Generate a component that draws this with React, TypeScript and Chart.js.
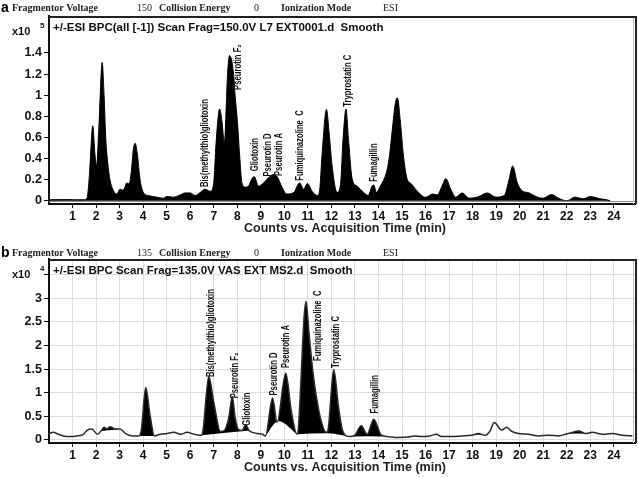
import React, { useEffect, useRef } from "react";
import { Chart, registerables } from "chart.js";

Chart.register(...registerables);

// ---------- Panel a: Fragmentor 150 V ----------
const timeA = [
  0, 0.9, 1.0, 1.5, 1.62, 1.72, 1.86, 1.95, 2.02, 2.12, 2.26, 2.34, 2.41, 2.5, 2.59, 2.74, 2.88,
  3.02, 3.15, 3.23, 3.3, 3.4, 3.5, 3.58, 3.66, 3.75, 3.87, 4.01, 4.23, 4.58, 4.87, 5.0, 5.29,
  5.57, 5.79, 6.0, 6.21, 6.43, 6.64, 6.85, 7.0, 7.1, 7.25, 7.35, 7.45, 7.59, 7.67, 7.84, 7.91,
  8.01, 8.1, 8.2, 8.34, 8.48, 8.6, 8.72, 8.9, 9.12, 9.33, 9.55, 9.69, 9.9, 10.1, 10.4, 10.65, 10.82,
  10.98, 11.18, 11.4, 11.5, 11.6, 11.79, 11.9, 12.03, 12.24, 12.38, 12.5, 12.62, 12.72, 12.88,
  13.09, 13.37, 13.56, 13.73, 13.8, 13.91, 14.08, 14.34, 14.45, 14.6, 14.7, 14.8, 14.95, 15.05,
  15.2, 15.4, 15.7, 16.0, 16.3, 16.5, 16.7, 16.86, 17.07, 17.28, 17.56, 17.85, 18.2, 18.63, 18.99,
  19.34, 19.56, 19.7, 19.9, 20.1, 20.4, 20.75, 21.0, 21.35, 21.65, 22.0, 22.35, 22.7, 23.0, 23.4,
  23.7, 23.85,
];
const countsA = [
  0.01, 0.012, 0.01, 0.01, 0.03, 0.25, 0.71, 0.45, 0.33, 0.7, 1.31, 1.0, 0.6, 0.35, 0.2, 0.096, 0.065,
  0.11, 0.1, 0.13, 0.17, 0.16, 0.28, 0.48, 0.545, 0.45, 0.2, 0.08, 0.05, 0.035, 0.025, 0.04, 0.035,
  0.056, 0.075, 0.075, 0.05, 0.08, 0.11, 0.09, 0.17, 0.55, 0.87, 0.75, 0.55, 1.21, 1.375, 1.21, 0.99,
  0.74, 0.43, 0.17, 0.13, 0.14, 0.2, 0.23, 0.14, 0.17, 0.22, 0.25, 0.23, 0.13, 0.065, 0.08, 0.17, 0.11,
  0.165, 0.09, 0.05, 0.1, 0.43, 0.865, 0.65, 0.33, 0.08, 0.14, 0.6, 0.87, 0.6, 0.21,
  0.14, 0.08, 0.05, 0.14, 0.15, 0.08, 0.14, 0.27, 0.4, 0.7, 0.9, 0.975, 0.7, 0.45,
  0.22, 0.16, 0.08, 0.033, 0.065, 0.056, 0.14, 0.21, 0.11, 0.035, 0.075, 0.025, 0.035, 0.075, 0.035,
  0.05, 0.21, 0.33, 0.17, 0.096, 0.075, 0.035, 0.025, 0.06, 0.025, 0.0, 0.035, 0.02, 0.04, 0.02,
  0.01, 0.0,
];

// ---------- Panel b: Fragmentor 135 V ----------
const timeB = [
  0.0, 0.18, 0.4, 0.61, 0.9, 1.18, 1.46, 1.63, 1.82, 2.06, 2.24, 2.34, 2.46, 2.6, 2.81, 3.02,
  3.24, 3.53, 3.81, 3.92, 4.11, 4.3, 4.48, 4.73, 5.02, 5.3, 5.59, 5.87, 6.16, 6.44, 6.51, 6.79,
  7.0, 7.29, 7.45, 7.65, 7.79, 7.9, 8.05, 8.2, 8.36, 8.5, 8.65, 8.86, 9.07, 9.2, 9.5, 9.69,
  10.06, 10.3, 10.54, 10.92, 11.05, 11.2, 11.35, 11.56, 11.77, 11.85, 12.1, 12.3, 12.48, 12.77, 13.0,
  13.27, 13.52, 13.8, 14.12, 14.4, 14.83, 15.25, 15.54, 15.83, 16.18, 16.46, 16.68, 17.1, 17.53,
  17.96, 18.25, 18.53, 18.74, 18.92, 19.23, 19.45, 19.66, 19.95, 20.37, 20.8, 21.23, 21.66,
  21.94, 22.23, 22.51, 22.8, 23.08, 23.51, 23.93, 24.36, 24.79,
];
const countsB = [
  0.135, 0.16, 0.12, 0.085, 0.07, 0.085, 0.12, 0.21, 0.23, 0.12, 0.21, 0.27, 0.23, 0.28, 0.23, 0.23,
  0.14, 0.085, 0.085, 0.2, 1.11, 0.5, 0.085, 0.12, 0.135, 0.16, 0.12, 0.16, 0.12, 0.1, 0.12, 1.35,
  0.8, 0.18, 0.2, 0.5, 0.92, 0.5, 0.22, 0.2, 0.32, 0.2, 0.16, 0.135, 0.12, 0.085, 0.89, 0.37,
  1.41, 0.6, 0.12, 2.93, 2.25, 1.5, 0.95, 0.41, 0.16, 0.2, 1.49, 0.7, 0.19, 0.07, 0.1,
  0.3, 0.12, 0.44, 0.1, 0.07, 0.05, 0.06, 0.085, 0.07, 0.085, 0.12, 0.07, 0.07, 0.085,
  0.1, 0.135, 0.1, 0.19, 0.37, 0.21, 0.27, 0.18, 0.135, 0.12, 0.085, 0.1, 0.085,
  0.12, 0.16, 0.19, 0.135, 0.16, 0.12, 0.135, 0.1, 0.085,
];
// integration baselines under the filled peaks of panel b
const baseTimesB = [
  [2.18, 2.9],
  [3.86, 4.5],
  [6.48, 8.55],
  [9.2, 9.75, 10.54],
  [10.54, 11.8, 12.77],
  [12.9, 14.2],
  [18.1, 18.42],
  [22.05, 22.9],
];
const baseCountsB = [
  [0.19, 0.22],
  [0.085, 0.085],
  [0.1, 0.2],
  [0.085, 0.4, 0.12],
  [0.12, 0.14, 0.07],
  [0.07, 0.085],
  [0.11, 0.11],
  [0.13, 0.14],
];

// ---------- labels ----------
const peakNames = [
  "Bis(methylthio)gliotoxin",
  "Pseurotin F\u2082",
  "Gliotoxin",
  "Pseurotin D",
  "Pseurotin A",
  "Fumiquinazoline  C",
  "Tryprostatin C",
  "Fumagillin",
];
const labelTimeA = [6.64, 8.04, 8.77, 9.32, 9.79, 10.68, 12.72, 13.83];
const labelBaseA = [0.13, 1.05, 0.28, 0.23, 0.235, 0.19, 0.89, 0.18];
const labelTimeB = [6.91, 7.93, 8.44, 9.59, 10.06, 11.45, 12.2, 13.86];
const labelBaseB = [1.33, 0.88, 0.3, 0.94, 1.52, 1.67, 1.52, 0.56];

const xTickValues = [1, 2, 3, 4, 5, 6, 7, 8, 9, 10, 11, 12, 13, 14, 15, 16, 17, 18, 19, 20, 21, 22, 23, 24];
const yTickValuesA = [0, 0.2, 0.4, 0.6, 0.8, 1, 1.2, 1.4];
const yTickValuesB = [0, 0.5, 1, 1.5, 2, 2.5, 3, 3.5];
const yLabelMaxB = 3;

const SANS = '"Liberation Sans", Arial, sans-serif';
const SERIF = '"Liberation Serif", "DejaVu Serif", serif';

type Panel = {
  letter: string;
  voltage: string;
  exponent: string;
  title: string;
  labelTimes: number[];
  labelBases: number[];
  headerY: number;
  zeroLine: boolean;
};

function makeOverlay(p: Panel) {
  return {
    id: "overlay" + p.letter,
    afterDatasetsDraw(chart: any) {
      const ctx = chart.ctx as CanvasRenderingContext2D;
      const area = chart.chartArea;
      const xs = chart.scales.x;
      const ys = chart.scales.y;
      ctx.save();
      if (p.zeroLine) {
        ctx.strokeStyle = "#8a8a8a";
        ctx.lineWidth = 1;
        const y0 = Math.round(ys.getPixelForValue(0)) + 0.5;
        ctx.beginPath();
        ctx.moveTo(area.left, y0);
        ctx.lineTo(area.right, y0);
        ctx.stroke();
      }
      // peak labels (rotated, condensed along the text so the longest name is ~88px)
      ctx.font = "bold 10px " + SANS;
      const w = ctx.measureText(peakNames[0]).width;
      const sx = 88 / w;
      ctx.fillStyle = "#111";
      ctx.textAlign = "left";
      ctx.textBaseline = "middle";
      for (let i = 0; i < peakNames.length; i++) {
        const px = xs.getPixelForValue(p.labelTimes[i]);
        const py = ys.getPixelForValue(p.labelBases[i]);
        ctx.save();
        ctx.translate(px, py);
        ctx.rotate(-Math.PI / 2);
        ctx.scale(sx, 1);
        ctx.fillText(peakNames[i], 0, 0);
        ctx.restore();
      }
      ctx.restore();
    },
    afterDraw(chart: any) {
      const ctx = chart.ctx as CanvasRenderingContext2D;
      const area = chart.chartArea;
      ctx.save();
      // frame top / right
      ctx.strokeStyle = "#222";
      ctx.lineWidth = 2;
      ctx.beginPath();
      ctx.moveTo(area.left, area.top + 1);
      ctx.lineTo(area.right + 1, area.top + 1);
      ctx.lineTo(area.right + 1, area.bottom);
      ctx.stroke();
      ctx.strokeStyle = "#bbb";
      ctx.lineWidth = 1;
      ctx.beginPath();
      ctx.moveTo(area.right - 1.5, area.top + 2);
      ctx.lineTo(area.right - 1.5, area.bottom);
      ctx.stroke();

      // header row
      const hy = p.headerY;
      ctx.fillStyle = "#000";
      ctx.textBaseline = "middle";
      ctx.textAlign = "left";
      ctx.font = "bold 14px " + SANS;
      ctx.fillText(p.letter, 1, hy);
      ctx.fillStyle = "#222";
      ctx.font = "bold 10px " + SERIF;
      ctx.fillText("Fragmentor Voltage", 12, hy);
      ctx.fillText("Collision Energy", 159, hy);
      ctx.fillText("Ionization Mode", 281, hy);
      ctx.font = "10px " + SERIF;
      ctx.fillText(p.voltage, 137, hy);
      ctx.fillText("0", 254, hy);
      ctx.fillText("ESI", 383, hy);

      // multiplier
      ctx.fillStyle = "#111";
      ctx.font = "bold 11px " + SANS;
      ctx.fillText("x10", 12, area.top + 16);
      ctx.font = "bold 8px " + SANS;
      ctx.fillText(p.exponent, 40, area.top + 10);

      // panel title
      ctx.fillStyle = "#111";
      ctx.font = "bold 11.5px " + SANS;
      ctx.fillText(p.title, 53, area.top + 12);

      // axis title
      ctx.textAlign = "center";
      ctx.font = "bold 12.5px " + SANS;
      ctx.fillStyle = "#222";
      ctx.fillText("Counts vs. Acquisition Time (min)", 345, area.bottom + 25);
      ctx.restore();
    },
  };
}

function xScale(gridOn: boolean) {
  return {
    type: "linear" as const,
    min: 0,
    max: 24.9,
    afterBuildTicks: (s: any) => {
      s.ticks = xTickValues.map((v) => ({ value: v }));
    },
    afterFit: (s: any) => {
      s.height = 35;
    },
    ticks: {
      autoSkip: false,
      maxRotation: 0,
      padding: 1,
      color: "#111",
      font: { family: SANS, size: 12, weight: "bold" as const },
      callback: (v: any) => String(v),
    },
    grid: {
      display: true,
      drawOnChartArea: gridOn,
      color: "#dcdcdc",
      tickColor: "#111",
      tickLength: 4,
      lineWidth: 1,
    },
    border: { display: true, color: "#111", width: 2 },
  };
}

function yScale(min: number, max: number, tickValues: number[], labelMax: number, gridOn: boolean) {
  return {
    type: "linear" as const,
    min,
    max,
    afterBuildTicks: (s: any) => {
      s.ticks = tickValues.map((v) => ({ value: v }));
    },
    afterFit: (s: any) => {
      s.width = 49;
    },
    ticks: {
      autoSkip: false,
      padding: 2,
      color: "#111",
      font: { family: SANS, size: 12.5, weight: "bold" as const },
      callback: (v: any) => (v > labelMax + 1e-9 ? "" : String(Math.round(v * 10) / 10)),
    },
    grid: {
      display: true,
      drawOnChartArea: gridOn,
      color: "#dcdcdc",
      tickColor: "#111",
      tickLength: 5,
      lineWidth: 1,
    },
    border: { display: true, color: "#111", width: 2 },
  };
}

const panelA: Panel = {
  letter: "a",
  voltage: "150",
  exponent: "5",
  title: "+/-ESI BPC(all [-1]) Scan Frag=150.0V L7 EXT0001.d  Smooth",
  labelTimes: labelTimeA,
  labelBases: labelBaseA,
  headerY: 8,
  zeroLine: true,
};
const panelB: Panel = {
  letter: "b",
  voltage: "135",
  exponent: "4",
  title: "+/-ESI BPC Scan Frag=135.0V VAS EXT MS2.d  Smooth",
  labelTimes: labelTimeB,
  labelBases: labelBaseB,
  headerY: 14,
  zeroLine: false,
};

export default function App() {
  const refA = useRef<HTMLCanvasElement>(null);
  const refB = useRef<HTMLCanvasElement>(null);

  useEffect(() => {
    const chartA = new Chart(refA.current as HTMLCanvasElement, {
      type: "line",
      data: {
        datasets: [
          {
            data: timeA.map((t, i) => ({ x: t, y: countsA[i] })),
            borderColor: "#000",
            borderWidth: 1,
            backgroundColor: "#000",
            fill: "origin",
            pointRadius: 0,
            tension: 0.3,
            cubicInterpolationMode: "monotone",
          },
        ],
      },
      options: {
        animation: false,
        responsive: true,
        maintainAspectRatio: false,
        layout: { padding: { top: 16, right: 3, left: 0, bottom: 0 } },
        plugins: { legend: { display: false }, tooltip: { enabled: false }, title: { display: false } },
        scales: {
          x: xScale(false) as any,
          y: yScale(-0.03, 1.75, yTickValuesA, 1.4, false) as any,
        },
      },
      plugins: [makeOverlay(panelA)],
    });

    const baseSets = baseTimesB.map((ts, k) => ({
      data: ts.map((t, i) => ({ x: t, y: baseCountsB[k][i] })),
      borderWidth: 0,
      borderColor: "rgba(0,0,0,0)",
      pointRadius: 0,
      tension: 0.3,
      cubicInterpolationMode: "monotone" as const,
      fill: { target: 0, above: "rgba(0,0,0,0)", below: "#000" },
    }));

    const chartB = new Chart(refB.current as HTMLCanvasElement, {
      type: "line",
      data: {
        datasets: [
          {
            data: timeB.map((t, i) => ({ x: t, y: countsB[i] })),
            borderColor: "#2a2a2a",
            borderWidth: 1.5,
            backgroundColor: "#000",
            fill: false,
            pointRadius: 0,
            tension: 0.3,
            cubicInterpolationMode: "monotone",
          },
          ...baseSets,
        ] as any,
      },
      options: {
        animation: false,
        responsive: true,
        maintainAspectRatio: false,
        layout: { padding: { top: 20, right: 3, left: 0, bottom: 0 } },
        plugins: { legend: { display: false }, tooltip: { enabled: false }, title: { display: false } },
        scales: {
          x: xScale(true) as any,
          y: yScale(-0.065, 3.83, yTickValuesB, yLabelMaxB, true) as any,
        },
      },
      plugins: [makeOverlay(panelB)],
    });

    return () => {
      chartA.destroy();
      chartB.destroy();
    };
  }, []);

  return (
    <div style={{ position: "absolute", left: 0, top: 0, width: 638, height: 478, background: "#fff" }}>
      <div style={{ position: "absolute", left: 0, top: 0, width: 638, height: 239 }}>
        <canvas ref={refA} />
      </div>
      <div style={{ position: "absolute", left: 0, top: 239, width: 638, height: 239 }}>
        <canvas ref={refB} />
      </div>
    </div>
  );
}
